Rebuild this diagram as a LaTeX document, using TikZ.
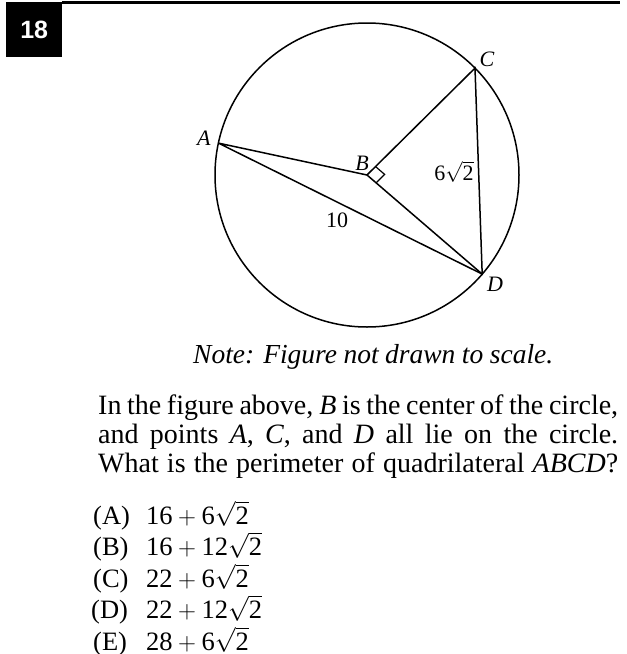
\documentclass[tikz,border=0pt]{standalone}
\usepackage{fontspec}
\usepackage{amsmath}
\setmainfont{Liberation Serif}
\setsansfont{Liberation Sans}
\usetikzlibrary{calc}
\newcommand{\tn}[1]{\text{#1}}
\begin{document}
\begin{tikzpicture}[x=1pt,y=-1pt,
  geo/.style={line width=1.5pt},
  lbl/.style={font=\fontsize{22}{26}\selectfont, inner sep=0pt},
  txt/.style={font=\fontsize{28}{32}\selectfont, inner sep=0pt, anchor=base west},
  ans/.style={font=\fontsize{26.5}{30}\selectfont, inner sep=0pt, anchor=base west},
]
\useasboundingbox (0,0) rectangle (627,654);
% number box and top rule
\node[fill=black, minimum width=56pt, minimum height=55pt, inner sep=0pt, anchor=north west,
      text=white, font=\sffamily\bfseries\fontsize{25}{25}\selectfont] (num) at (6,2) {18};
\coordinate (ruleend) at (620,2.5);
\draw[line width=2.5pt] (num.north east |- ruleend) -- (ruleend);
% circle and points
\coordinate (B) at (367,175);
\draw[geo] (B) circle (152);
\coordinate (A) at (218.4,143.1);
\coordinate (C) at (475.0,68.1);
\coordinate (D) at (482.2,274.1);
\draw[geo] (A) -- (B) -- (C) -- (D) -- (A);
\draw[geo] (B) -- (D);
% right angle mark
\coordinate (m1) at ($(B)!12pt!(C)$);
\coordinate (m2) at ($(B)!12pt!(D)$);
\coordinate (m3) at ($(m1)+(m2)-(B)$);
\draw[line width=1.2pt] (m1) -- (m3) -- (m2);
% labels
\node[lbl] (lA) at (204,138) {\textit{A}};
\node[lbl] (lB) at (362,163) {\textit{B}};
\node[lbl] (lC) at (487,59) {\textit{C}};
\node[lbl] (lD) at (495,284) {\textit{D}};
\node[lbl] (l62) at (454,172) {$\tn{6}\sqrt{\tn{2}}$};
\node[lbl] (l10) at (337,220) {10};
% note
\node[txt, font=\fontsize{27.5}{32}\selectfont\itshape] (note) at (193,363)
  {\makebox[360pt][s]{Note: Figure not drawn to scale.}};
% question
\node[txt] (q1) at (98,414) {\makebox[520pt][s]{In the figure above, \textit{B} is the center of the circle,}};
\node[txt] (q2) at (98,443) {\makebox[520pt][s]{and points \textit{A}, \textit{C}, and \textit{D} all lie on the circle.}};
\node[txt] (q3) at (98,472) {\makebox[520pt][s]{What is the perimeter of quadrilateral \textit{ABCD}?}};
% answers
\node[ans] (a1) at (93,524) {(A)};
\node[ans] (e1) at (146,524) {$\tn{16}+\tn{6}\sqrt{\tn{2}}$};
\node[ans] (a2) at (93,555.5) {(B)};
\node[ans] (e2) at (146,555.5) {$\tn{16}+\tn{12}\sqrt{\tn{2}}$};
\node[ans] (a3) at (93,587) {(C)};
\node[ans] (e3) at (146,587) {$\tn{22}+\tn{6}\sqrt{\tn{2}}$};
\node[ans] (a4) at (91,618.5) {(D)};
\node[ans] (e4) at (146,618.5) {$\tn{22}+\tn{12}\sqrt{\tn{2}}$};
\node[ans] (a5) at (93,650) {(E)};
\node[ans] (e5) at (146,650) {$\tn{28}+\tn{6}\sqrt{\tn{2}}$};
\end{tikzpicture}
\end{document}
